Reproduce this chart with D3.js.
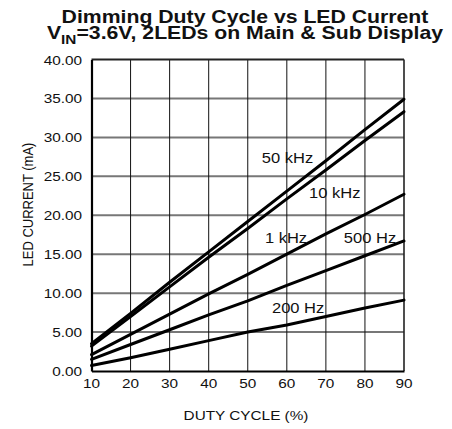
<!DOCTYPE html>
<html><head><meta charset="utf-8">
<script src="https://cdn.jsdelivr.net/npm/d3@7"></script>
<style>body{margin:0;background:#fff}svg{display:block}text{font-family:"Liberation Sans",Arial,Helvetica,sans-serif;fill:#111}</style>
</head><body><div id="chart"></div>
<script>
const dutyCycle = [10, 20, 30, 40, 50, 60, 70, 80, 90];
const freq50k  = [3.5, 7.4, 11.4, 15.3, 19.2, 23.1, 27.0, 31.0, 34.9];
const freq10k  = [3.2, 7.0, 10.8, 14.6, 18.3, 22.1, 25.8, 29.6, 33.3];
const freq1k   = [2.1, 4.7, 7.3, 9.9, 12.4, 15.0, 17.6, 20.1, 22.7];
const freq500  = [1.5, 3.4, 5.3, 7.2, 9.0, 11.0, 12.9, 14.8, 16.7];
const freq200  = [0.7, 1.7, 2.8, 3.9, 5.0, 5.9, 7.0, 8.1, 9.1];
const seriesNames = ["50 kHz", "10 kHz", "1 kHz", "500 Hz", "200 Hz"];
const seriesValues = [freq50k, freq10k, freq1k, freq500, freq200];
// label anchor in data units (duty %, mA)
const labelX = [53.6, 65.7, 54.4, 74.6, 56.2];
const labelY = [26.7, 22.2, 16.4, 16.4, 7.45];
const xTicks = [10, 20, 30, 40, 50, 60, 70, 80, 90];
const yTicks = [0, 5, 10, 15, 20, 25, 30, 35, 40];

const W = 452, H = 429, SX = 1.18;
const m = {left: 91.5, right: W - 404, top: 59.5, bottom: H - 371};
const svg = d3.select("#chart").append("svg").attr("width", W).attr("height", H);
const x = d3.scaleLinear().domain([10, 90]).range([m.left, W - m.right]);
const y = d3.scaleLinear().domain([0, 40]).range([H - m.bottom, m.top]);

function stext(g, tx, ty, str, size, anchor, weight) {
  return g.append("text").attr("transform", `translate(${tx},${ty}) scale(${SX},1)`)
    .attr("text-anchor", anchor).style("font-size", size + "px")
    .style("font-weight", weight || "normal").text(str);
}

// horizontal gridlines (gray)
svg.append("g").selectAll("line").data(yTicks.slice(1, -1)).join("line")
  .attr("x1", x(10)).attr("x2", x(90)).attr("y1", d => y(d)).attr("y2", d => y(d))
  .attr("stroke", "#777").attr("stroke-width", 2);
// vertical gridlines (black thin)
svg.append("g").selectAll("line").data(xTicks.slice(1, -1)).join("line")
  .attr("x1", d => x(d)).attr("x2", d => x(d)).attr("y1", y(0)).attr("y2", y(40))
  .attr("stroke", "#111").attr("stroke-width", 1);
// frame
svg.append("line").attr("x1", x(10)).attr("x2", x(90)).attr("y1", y(40)).attr("y2", y(40)).attr("stroke", "#222").attr("stroke-width", 2);
svg.append("line").attr("x1", x(90)).attr("x2", x(90)).attr("y1", y(0)).attr("y2", y(40)).attr("stroke", "#222").attr("stroke-width", 1.6);

// axes via d3
const xAxis = svg.append("g").attr("transform", `translate(0,${y(0)})`)
  .call(d3.axisBottom(x).tickValues(xTicks).tickSize(0).tickPadding(0).tickFormat(d3.format("d")));
xAxis.select(".domain").attr("stroke", "#000").attr("stroke-width", 2.2);
xAxis.selectAll(".tick text").remove();
const yAxis = svg.append("g").attr("transform", `translate(${x(10)},0)`)
  .call(d3.axisLeft(y).tickValues(yTicks).tickSize(0).tickFormat(d3.format(".2f")));
yAxis.select(".domain").attr("stroke", "#000").attr("stroke-width", 2.2);
yAxis.selectAll(".tick text").remove();

// tick labels (stretched like the reference)
const tl = svg.append("g");
xTicks.forEach(t => stext(tl, x(t), y(0) + 17, d3.format("d")(t), 13, "middle"));
yTicks.forEach(t => stext(tl, x(10) - 9.5, y(t) + 5, d3.format(".2f")(t), 13, "end"));

// series lines
const line = d3.line().x((d, i) => x(dutyCycle[i])).y(d => y(d));
svg.append("g").selectAll("path").data(seriesValues).join("path")
  .attr("d", d => line(d)).attr("fill", "none").attr("stroke", "#000")
  .attr("stroke-width", 3).attr("stroke-linecap", "round");

// series labels
const lg = svg.append("g");
seriesNames.forEach((n, i) => stext(lg, x(labelX[i]), y(labelY[i]), n, 14, "start"));

// axis titles
stext(svg, 246, 420, "DUTY CYCLE (%)", 13, "middle");
svg.append("text").attr("transform", `translate(33,204.5) rotate(-90) scale(1,${SX})`)
  .attr("text-anchor", "middle").style("font-size", "13px").text("LED CURRENT (mA)");

// title
stext(svg, 245, 22.7, "Dimming Duty Cycle vs LED Current", 18, "middle", "bold");
const t2 = stext(svg, 245, 39.3, "V", 18, "middle", "bold");
t2.append("tspan").attr("baseline-shift", "-25%").style("font-size", "13px").text("IN");
t2.append("tspan").attr("dy", 0).text("");
t2.text(null);
t2.append("tspan").text("V");
t2.append("tspan").attr("dy", 4.5).style("font-size", "13px").text("IN");
t2.append("tspan").attr("dy", -4.5).text("=3.6V, 2LEDs on Main & Sub Display");
</script></body></html>
